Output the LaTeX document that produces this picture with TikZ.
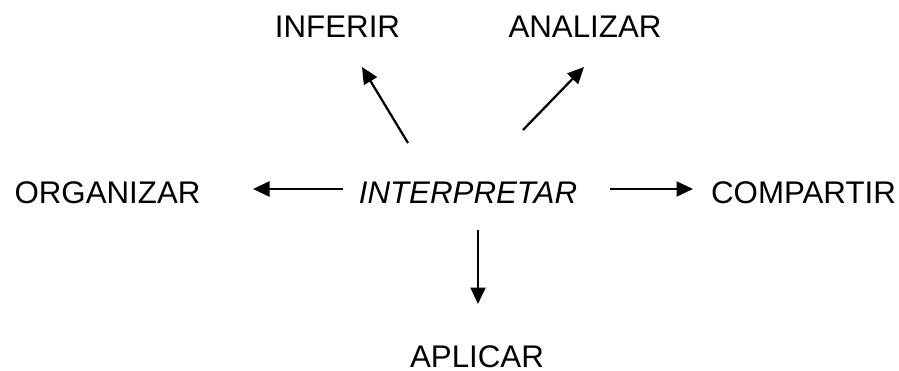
\documentclass[tikz,border=0pt]{standalone}
\usepackage{fontspec}
\setmainfont{Liberation Sans}
\usetikzlibrary{arrows.meta,positioning}

\begin{document}
\begin{tikzpicture}[x=0.02cm, y=-0.02cm,
    lbl/.style={inner sep=0pt, font=\fontsize{17.8pt}{20pt}\selectfont},
    arr/.style={-{Triangle[length=0.33cm, width=0.3cm]}, line width=0.045cm}]
            \useasboundingbox (0,0) rectangle (899,371);
            % Words
            \node[lbl] (inferir) at (337.5,26.5) {INFERIR};
            \node[lbl] (analizar) at (585,26.5) {ANALIZAR};
            \node[lbl] (organizar) at (107.5,193) {ORGANIZAR};
            \node[lbl, font=\fontsize{17.8pt}{20pt}\selectfont\itshape] (interp) at (468,193) {INTERPRETAR};
            \node[lbl] (compartir) at (803.5,193) {COMPARTIR};
            \node[lbl] (aplicar) at (477,356.5) {APLICAR};

            % Arrow ends
            \coordinate (inf-s) at (408,143);
            \coordinate (inf-e) at (362,67);
            \coordinate (ana-s) at (523,130);
            \coordinate (ana-e) at (584,67);
            \coordinate (org-s) at (343,189);
            \coordinate (org-e) at (253,189);
            \coordinate (com-s) at (610,189);
            \coordinate (com-e) at (693,189);
            \coordinate (apl-s) at (478,230);
            \coordinate (apl-e) at (478,304);

            % Arrows
            \draw[arr] (inf-s) -- (inf-e);
            \draw[arr] (ana-s) -- (ana-e);
            \draw[arr] (org-s) -- (org-e);
            \draw[arr] (com-s) -- (com-e);
            \draw[arr] (apl-s) -- (apl-e);
\end{tikzpicture}
\end{document}
